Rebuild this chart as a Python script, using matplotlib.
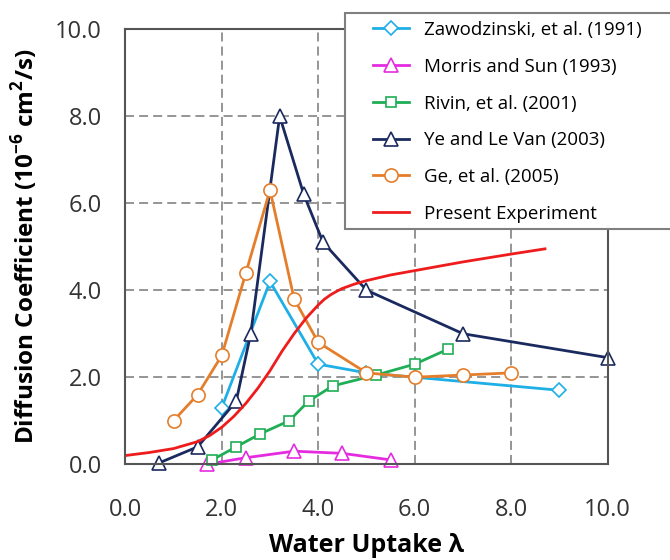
import matplotlib
matplotlib.use("Agg")
import matplotlib.pyplot as plt
from matplotlib.patches import Rectangle

plt.rcParams["font.family"] = ["Open Sans", "DejaVu Sans"]

# Zawodzinski, et al. (1991)
zaw_x = [2.0, 3.0, 4.0, 5.0, 6.0, 9.0]
zaw_y = [1.3, 4.2, 2.3, 2.1, 2.0, 1.7]

# Morris and Sun (1993)
mor_x = [1.7, 2.5, 3.5, 4.5, 5.5]
mor_y = [0.0, 0.15, 0.3, 0.25, 0.1]

# Rivin, et al. (2001)
riv_x = [1.8, 2.3, 2.8, 3.4, 3.8, 4.3, 5.2, 6.0, 6.7]
riv_y = [0.1, 0.4, 0.7, 1.0, 1.45, 1.8, 2.05, 2.3, 2.65]

# Ye and Le Van (2003)
ye_x = [0.7, 1.5, 2.3, 2.6, 3.2, 3.7, 4.1, 5.0, 7.0, 10.0]
ye_y = [0.03, 0.4, 1.45, 3.0, 8.0, 6.2, 5.1, 4.0, 3.0, 2.45]

# Ge, et al. (2005)
ge_x = [1.0, 1.5, 2.0, 2.5, 3.0, 3.5, 4.0, 5.0, 6.0, 7.0, 8.0]
ge_y = [1.0, 1.6, 2.5, 4.4, 6.3, 3.8, 2.8, 2.1, 2.0, 2.05, 2.1]

# Present Experiment
exp_x = [0.0, 0.5, 1.0, 1.5, 1.75, 2.0, 2.25, 2.5, 2.75, 3.0, 3.25, 3.5, 3.75,
         4.0, 4.125, 4.25, 4.375, 4.5, 4.75, 5.0, 5.5, 6.0, 7.0, 8.0, 8.7]
exp_y = [0.2, 0.27, 0.36, 0.52, 0.66, 0.85, 1.1, 1.4, 1.75, 2.15, 2.6, 3.0, 3.36,
         3.66, 3.79, 3.89, 3.97, 4.04, 4.14, 4.22, 4.35, 4.45, 4.65, 4.83, 4.95]

ticks = [0, 2, 4, 6, 8, 10]
tick_labels = ["0.0", "2.0", "4.0", "6.0", "8.0", "10.0"]

fig = plt.figure(figsize=(6.7, 5.6), dpi=100)
ax = fig.add_axes([0.187, 0.171, 0.72, 0.777])

mk = dict(markerfacecolor="white", markeredgewidth=1.2, linewidth=2, clip_on=False)
ax.plot(zaw_x, zaw_y, color="#1EAFE6", marker="D", markersize=7.5,
        label="Zawodzinski, et al. (1991)", **mk)
ax.plot(mor_x, mor_y, color="#E52BE0", marker="^", markersize=9.5,
        label="Morris and Sun (1993)", **mk)
ax.plot(riv_x, riv_y, color="#1FAE55", marker="s", markersize=7.5,
        label="Rivin, et al. (2001)", **mk)
ax.plot(ye_x, ye_y, color="#1B2A5E", marker="^", markersize=9.5,
        label="Ye and Le Van (2003)", **mk)
ax.plot(ge_x, ge_y, color="#E57E2B", marker="o", markersize=9.5,
        label="Ge, et al. (2005)", **mk)
ax.plot(exp_x, exp_y, color="#EE1C1C", linewidth=2, label="Present Experiment")

ax.set_xlim(0, 10)
ax.set_ylim(0, 10)
ax.set_xticks(ticks)
ax.set_xticklabels(tick_labels)
ax.set_yticks(ticks)
ax.set_yticklabels(tick_labels)
ax.tick_params(length=0, labelsize=17, colors="#333333")
ax.tick_params(axis="x", pad=24)
ax.tick_params(axis="y", pad=17)
ax.grid(True, color="#8c8c8c", linestyle=(0, (5, 2.8)), linewidth=1.3)
for s in ax.spines.values():
    s.set_color("#555555")
    s.set_linewidth(1.5)

ax.set_xlabel("Water Uptake λ", fontsize=18, fontweight="bold", labelpad=8)
ax.set_ylabel("Diffusion Coefficient (10$^{\\mathregular{-6}}$ cm$^{\\mathregular{2}}$/s)",
              fontsize=17.5, fontweight="bold", labelpad=11)

# legend box, cut off by the right edge of the figure
box = Rectangle((345 / 670, 1 - 229 / 560), 0.6, 216 / 560, transform=fig.transFigure,
                facecolor="white", edgecolor="#7f7f7f", linewidth=1.5, zorder=3)
fig.patches.append(box)

leg = fig.legend(loc="upper left", bbox_to_anchor=(373 / 670, 1 - 21 / 560),
                 fontsize=13.5, frameon=False, labelspacing=1.0,
                 handlelength=1.9, borderpad=0, handletextpad=0.8,
                 borderaxespad=0)
leg.set_zorder(5)

fig.savefig("out.png", dpi=100)
